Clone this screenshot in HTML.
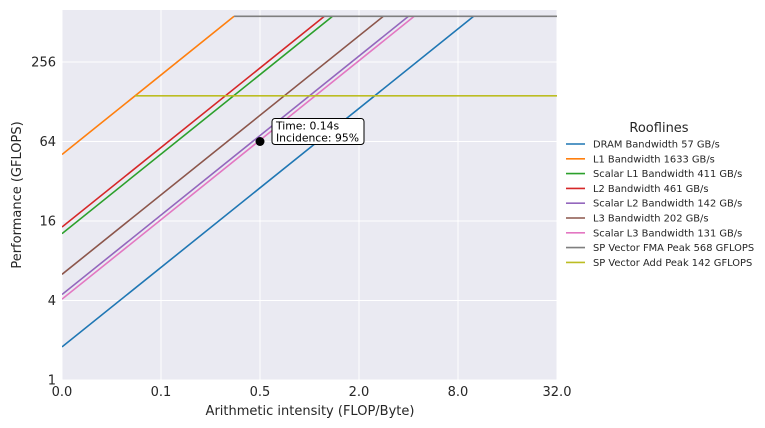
<!DOCTYPE html>
<html><head><meta charset="utf-8"><style>
body{margin:0;background:#fff;}
svg{display:block;font-family:"DejaVu Sans","Liberation Sans",sans-serif;}
</style></head><body>
<svg id="chart" width="765" height="428">
  <rect x="62" y="10" width="495" height="370" fill="#EAEAF2"/>
  <g id="grid"></g><g id="ticks"></g>
  <defs><clipPath id="clip"><rect x="62" y="10" width="495" height="370"/></clipPath></defs>
  <g id="lines" clip-path="url(#clip)"></g>
  <g id="marker"></g>
  <text x="310" y="415" font-size="13" fill="#262626" text-anchor="middle">Arithmetic intensity (FLOP/Byte)</text>
  <text x="21" y="195" font-size="13" fill="#262626" text-anchor="middle" transform="rotate(-90 21 195)">Performance (GFLOPS)</text>
  <g id="legend">
    <text x="659" y="132" font-size="13" fill="#262626" text-anchor="middle">Rooflines</text>
  </g>
</svg>
<script>
const bwNames = ["DRAM Bandwidth 57 GB/s","L1 Bandwidth 1633 GB/s","Scalar L1 Bandwidth 411 GB/s","L2 Bandwidth 461 GB/s","Scalar L2 Bandwidth 142 GB/s","L3 Bandwidth 202 GB/s","Scalar L3 Bandwidth 131 GB/s"];
const bwValues = [57,1633,411,461,142,202,131];
const peakNames = ["SP Vector FMA Peak 568 GFLOPS","SP Vector Add Peak 142 GFLOPS"];
const peakValues = [568,142];
const xTickValues = [0.03125,0.125,0.5,2,8,32];
const xTickLabels = ["0.0","0.1","0.5","2.0","8.0","32.0"];
const yTickValues = [1,4,16,64,256];
const yTickLabels = ["1","4","16","64","256"];
const pointX = [0.5];
const pointY = [64];
const annText = ["Time: 0.14s","Incidence: 95%"];
const colors = ["#1f77b4","#ff7f0e","#2ca02c","#d62728","#9467bd","#8c564b","#e377c2","#7f7f7f","#bcbd22"];

const NS="http://www.w3.org/2000/svg";
const X0=62,X1=557,Y0=380,Y1=10;
const xmin=Math.log2(1/32),xmax=Math.log2(32);
const ymin=0;
function xs(v){return X0+(Math.log2(v)-xmin)/(xmax-xmin)*(X1-X0);}
function ys(v){return Y0-(Math.log2(v)-ymin)*39.75;}
function el(t,a,p){const e=document.createElementNS(NS,t);for(const k in a)e.setAttribute(k,a[k]);p.appendChild(e);return e;}
const grid=document.getElementById('grid'),ticks=document.getElementById('ticks'),lines=document.getElementById('lines');
xTickValues.forEach((v,i)=>{const x=xs(v);
 const g=el('line',{x1:x,x2:x,y1:Y1,y2:Y0,stroke:'#fff','stroke-width':1},grid);
 
 
 const t=el('text',{x:x,y:396,'font-size':13,fill:'#262626','text-anchor':'middle'},ticks);t.textContent=xTickLabels[i];
 
 });
yTickValues.forEach((v,i)=>{const y=ys(v);
 const g=el('line',{x1:X0,x2:X1,y1:y,y2:y,stroke:'#fff','stroke-width':1},grid);
 
 
 const t=el('text',{x:56,y:y+4.5,'font-size':13,fill:'#262626','text-anchor':'end'},ticks);t.textContent=yTickLabels[i];
 
 });
const maxPeak=Math.max(...peakValues),maxBw=Math.max(...bwValues);
const xlo=1/32,xhi=32;
bwValues.forEach((b,i)=>{const xe=Math.min(maxPeak/b,xhi);
 const l=el('line',{x1:xs(xlo),y1:ys(b*xlo),x2:xs(xe),y2:ys(b*xe),stroke:colors[i],'stroke-width':1.6},lines);
 
 });
peakValues.forEach((p,i)=>{const xsx=Math.max(p/maxBw,xlo);
 const l=el('line',{x1:xs(xsx),y1:ys(p),x2:xs(xhi),y2:ys(p),stroke:colors[7+i],'stroke-width':1.6},lines);
 
 });
const mk=document.getElementById('marker');
const px=xs(pointX[0]),py=ys(pointY[0]);
const c=el('circle',{cx:px,cy:py,r:4.5,fill:'#000'},mk);


const box=el('rect',{x:px+12,y:py-23,width:92,height:26,rx:3,fill:'#fff',stroke:'#000','stroke-width':1},mk);


annText.forEach((s,i)=>{const t=el('text',{x:px+16,y:py-12+i*12,'font-size':10.8,fill:'#000'},mk);t.textContent=s;
 
 });
const lg=document.getElementById('legend');
bwNames.concat(peakNames).forEach((n,i)=>{const y=144+i*14.8;
 const l=el('line',{x1:566,x2:585,y1:y,y2:y,stroke:colors[i],'stroke-width':1.6},lg);
 
 
 const t=el('text',{x:593,y:y+3.5,'font-size':9.9,fill:'#262626'},lg);t.textContent=n;
 
 });
</script>
</body></html>
